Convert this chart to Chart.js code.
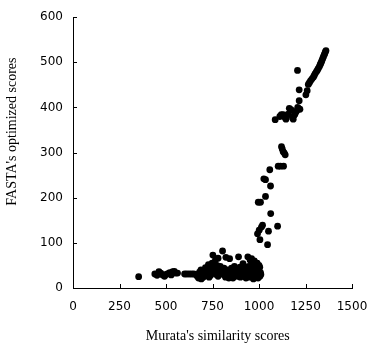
<!DOCTYPE html>
<html lang="en">
<head>
    <meta charset="UTF-8">
    <title>FASTA vs Murata scores</title>
    <script src="https://cdn.jsdelivr.net/npm/chart.js"></script>
    <style>
        html, body {
            margin: 0;
            padding: 0;
            background: #fff;
            overflow: hidden;
        }
        .chart-container {
            width: 383px;
            height: 347px;
        }
    </style>
</head>
<body>
    <div class="chart-container">
        <canvas id="scoreChart"></canvas>
    </div>

    <script>
        // Murata's similarity scores (x) and FASTA's optimized scores (y)
        const murataScores = [
            353,
            440, 452, 462, 472, 482, 492, 500, 510, 520, 528, 536, 545, 552, 562,
            600, 612, 625, 638, 650, 660, 668, 675, 680, 688, 694, 700, 706, 712, 718, 722, 728, 732, 738, 742,
            748, 752, 756, 762, 766, 770, 774, 780, 784, 788, 792, 798, 804, 808, 812, 818, 822, 826, 832, 838,
            842, 846, 852, 858, 862, 868, 872, 878, 884, 890, 894, 898, 904, 910, 914, 920, 926, 930, 936, 940,
            944, 948, 952, 956, 960, 964, 968, 972, 976, 980, 984, 988, 992, 996, 1000, 1004, 1008, 1010,
            960, 975, 990, 1000, 985, 1005, 995, 970, 950, 930, 900, 860, 820, 780, 740, 690,
            992, 1001, 1013, 1019, 1005, 996, 1008, 1035, 1026, 1035, 1058, 1062, 1063, 1051, 1046, 1100,
            1103, 1115, 1132, 1121, 1125, 1130, 1136, 1141, 1087, 1112, 1120, 1130, 1140, 1145, 1157, 1163,
            1172, 1180, 1184, 1188, 1193, 1198, 1202, 1208, 1211, 1216, 1220, 1207, 1216, 1252, 1259, 1265,
            1271, 1277, 1284, 1292, 1297, 1302, 1308, 1313, 1318, 1324, 1328, 1331, 1335, 1338, 1342, 1346,
            1350, 1353, 1357, 1360
        ];
        const fastaScores = [
            25,
            31, 28, 36, 33, 29, 26, 30, 32, 34, 29, 36, 37, 33, 33,
            31, 31, 31, 31, 31, 30, 26, 22, 35, 40, 28, 24, 33, 45, 38, 28, 52, 24, 42, 33,
            55, 73, 45, 38, 62, 30, 50, 66, 42, 34, 48, 40, 82, 30, 44, 36, 68, 26, 40, 22,
            65, 34, 44, 28, 38, 48, 32, 42, 26, 69, 36, 46, 30, 40, 54, 34, 44, 28, 38, 69,
            48, 32, 62, 42, 28, 56, 36, 48, 24, 40, 52, 32, 44, 28, 38, 46, 34, 30,
            65, 60, 55, 50, 26, 26, 22, 20, 24, 22, 24, 22, 24, 26, 28, 20,
            120, 128, 135, 139, 107, 190, 190, 203, 242, 240, 262, 226, 165, 126, 96, 137,
            270, 270, 270, 313, 308, 302, 299, 295, 373, 380, 384, 384, 378, 374, 385, 398,
            395, 378, 374, 382, 385, 390, 392, 400, 398, 415, 396, 482, 439, 428, 437, 451,
            455, 459, 463, 467, 471, 475, 479, 482, 486, 490, 494, 497, 500, 504, 508, 512,
            516, 519, 523, 526
        ];
        const xTicks = [0, 250, 500, 750, 1000, 1250, 1500];
        const yTicks = [0, 100, 200, 300, 400, 500, 600];

        const points = murataScores.map((x, i) => ({ x: x, y: fastaScores[i] }));

        // small tick marks pointing into the plot, like the original
        const innerTicks = {
            id: 'innerTicks',
            afterDraw(chart) {
                const ctx = chart.ctx;
                const xs = chart.scales.x;
                const ys = chart.scales.y;
                ctx.save();
                ctx.strokeStyle = '#000';
                ctx.lineWidth = 1;
                ctx.beginPath();
                xTicks.forEach(v => {
                    const px = Math.round(xs.getPixelForValue(v)) + 0.5;
                    ctx.moveTo(px, ys.bottom);
                    ctx.lineTo(px, ys.bottom - 4);
                });
                yTicks.forEach(v => {
                    const py = Math.round(ys.getPixelForValue(v)) + 0.5;
                    ctx.moveTo(xs.left, py);
                    ctx.lineTo(xs.left + 4, py);
                });
                ctx.stroke();
                ctx.restore();
            }
        };

        const ctx = document.getElementById('scoreChart').getContext('2d');
        const scoreChart = new Chart(ctx, {
            type: 'scatter',
            data: {
                datasets: [{
                    label: 'scores',
                    data: points,
                    backgroundColor: '#000',
                    borderColor: '#000',
                    borderWidth: 0,
                    pointRadius: 3.4
                }]
            },
            options: {
                responsive: true,
                maintainAspectRatio: false,
                animation: false,
                layout: {
                    padding: { top: 16, right: 31, bottom: 0, left: 0 }
                },
                scales: {
                    x: {
                        type: 'linear',
                        min: 0,
                        max: 1500,
                        afterFit: scale => { scale.height = 59; },
                        afterBuildTicks: scale => { scale.ticks = xTicks.map(v => ({ value: v })); },
                        grid: { display: true, drawOnChartArea: false, drawTicks: false },
                        border: { color: '#000', width: 1 },
                        ticks: {
                            padding: 12,
                            color: '#000',
                            maxRotation: 0,
                            callback: v => String(v),
                            font: { family: 'DejaVu Sans', size: 12 }
                        },
                        title: {
                            display: true,
                            text: "\u00a0\u00a0\u00a0Murata's similarity scores",
                            color: '#000',
                            padding: { top: 0, bottom: 2 },
                            font: { family: 'Liberation Serif', size: 14 }
                        }
                    },
                    y: {
                        type: 'linear',
                        min: 0,
                        max: 600,
                        afterFit: scale => { scale.width = 73; },
                        afterBuildTicks: scale => { scale.ticks = yTicks.map(v => ({ value: v })); },
                        grid: { display: true, drawOnChartArea: false, drawTicks: false },
                        border: { color: '#000', width: 1 },
                        ticks: {
                            padding: 10,
                            color: '#000',
                            callback: v => String(v),
                            font: { family: 'DejaVu Sans', size: 12 }
                        },
                        title: {
                            display: true,
                            text: "\u00a0".repeat(12) + "FASTA's optimized scores",
                            color: '#000',
                            padding: { top: 4, bottom: 0 },
                            font: { family: 'Liberation Serif', size: 14 }
                        }
                    }
                },
                plugins: {
                    legend: { display: false },
                    tooltip: { enabled: false }
                }
            },
            plugins: [innerTicks]
        });
    </script>
</body>
</html>
